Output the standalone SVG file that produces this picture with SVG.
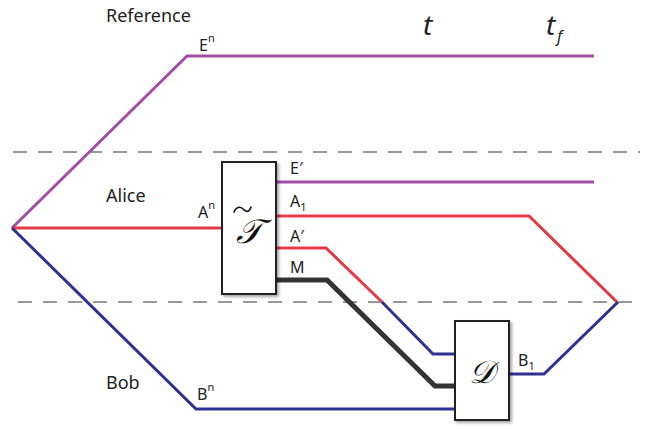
<svg xmlns="http://www.w3.org/2000/svg" width="651" height="429" viewBox="0 0 651 429">
<defs>
<filter id="sh" x="-20%" y="-20%" width="140%" height="140%">
<feDropShadow dx="2" dy="2" stdDeviation="1.5" flood-color="#000" flood-opacity="0.35"/>
</filter>
</defs>
<style>
.ln{fill:none;stroke-width:3;stroke-linejoin:miter}
.pu{stroke:#a24ea6}
.rd{stroke:#e33a45}
.bl{stroke:#2e3192}
.bk{stroke:#333;stroke-width:5}
.dash{stroke:#999;stroke-width:2;stroke-dasharray:14 11;fill:none}
.box{fill:#fff;stroke:#222;stroke-width:2}
.lab{font-family:"Noto Sans","Liberation Sans",sans-serif;font-size:18px;fill:#222}
.sub{font-family:"Noto Sans","Liberation Sans",sans-serif;font-size:16px;fill:#222}
.sm{font-size:11px}
.ti{font-family:"Noto Sans","Liberation Sans",sans-serif;font-style:italic;fill:#222}
.cal{font-family:"DejaVu Serif","Liberation Serif",serif;font-style:italic;fill:#111}
.tilde{fill:none;stroke:#111;stroke-width:1.6;stroke-linecap:round}
</style>
<g id="separators">
<line class="dash" x1="13" y1="152" x2="640" y2="152"/>
<line class="dash" x1="18" y1="302" x2="640" y2="302"/>
</g>
<g id="connectors">
<path class="ln pu" d="M12,228 L187,56 L594,56"/>
<path class="ln rd" d="M12,228 L222,228"/>
<path class="ln bl" d="M12,228 L196,409 L455,409"/>
<path class="ln pu" d="M276,182 L594,182"/>
<path class="ln rd" d="M276,216 L529,216 L617,302"/>
<path class="ln rd" d="M276,248 L326,248 L382,302"/>
<path class="ln bl" d="M382,302 L433,354 L455,354"/>
<path class="ln bk" d="M276,280 L327,280 L435,386 L455,386"/>
<path class="ln bl" d="M509,374 L544,374 L618,302"/>
</g>
<g id="labels">
<text class="lab" x="106" y="22">Reference</text>
<text class="lab" x="106" y="202">Alice</text>
<text class="lab" x="106" y="389">Bob</text>
<text class="ti" x="423" y="35" font-size="28">t</text>
<text class="ti" x="546" y="35" font-size="28">t</text>
<text class="ti" x="557" y="42" font-size="16">f</text>
<text class="sub" x="199" y="51">E<tspan class="sm" dy="-9">n</tspan></text>
<text class="sub" x="198" y="218">A<tspan class="sm" dy="-9">n</tspan></text>
<text class="sub" x="197" y="400">B<tspan class="sm" dy="-9">n</tspan></text>
<text class="sub" x="290" y="174">E′</text>
<text class="sub" x="290" y="207">A<tspan class="sm" dy="4">1</tspan></text>
<text class="sub" x="290" y="242">A′</text>
<text class="sub" x="290" y="273">M</text>
<text class="sub" x="518" y="366">B<tspan class="sm" dy="4">1</tspan></text>
</g>
<g id="T">
<rect class="box" x="222" y="162" width="54" height="132" filter="url(#sh)"/>
<path class="tilde" d="M234,212 C236,207 240,206 243,209 C246,212 249,213 251,207"/>
<text class="cal" x="249" y="243" font-size="34" text-anchor="middle">𝒯</text>
</g>
<g id="D">
<rect class="box" x="455" y="321" width="54" height="99" filter="url(#sh)"/>
<text class="cal" x="482" y="383" font-size="32" text-anchor="middle">𝒟</text>
</g>
</svg>
